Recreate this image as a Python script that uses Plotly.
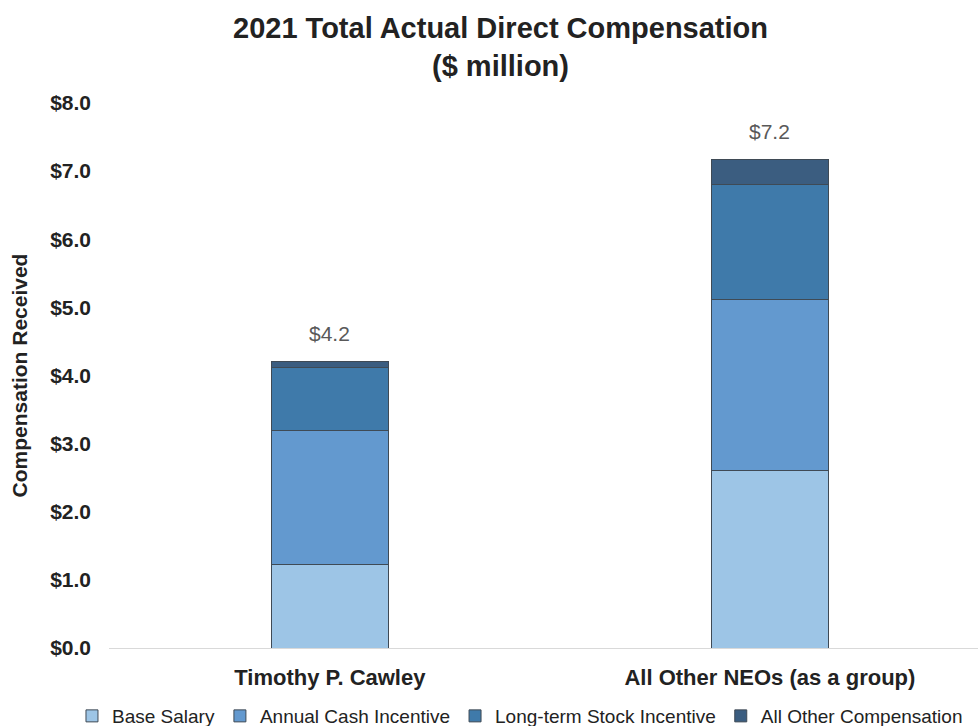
import plotly.graph_objects as go

categories = ["Timothy P. Cawley", "All Other NEOs (as a group)"]
series_names = ["Base Salary", "Annual Cash Incentive", "Long-term Stock Incentive", "All Other Compensation"]
base_salary = [1.22, 2.61]
annual_cash = [1.98, 2.50]
long_term_stock = [0.92, 1.69]
all_other = [0.08, 0.37]
total_labels = ["$4.2", "$7.2"]
y_ticks = [0, 1, 2, 3, 4, 5, 6, 7, 8]
y_tick_labels = ["$0.0", "$1.0", "$2.0", "$3.0", "$4.0", "$5.0", "$6.0", "$7.0", "$8.0"]

colors = ["#9DC5E6", "#6399CF", "#3F7AAA", "#3B5D80"]
values = [base_salary, annual_cash, long_term_stock, all_other]

FONT = "Liberation Sans, Arial, sans-serif"

fig = go.Figure()
for name, vals, col in zip(series_names, values, colors):
    fig.add_trace(go.Bar(
        x=categories, y=vals, name=name,
        marker=dict(color=col, line=dict(color="#3F4A55", width=1)),
        width=0.266,
    ))

totals = [sum(v) for v in zip(*values)]
for cat, tot, lab in zip(categories, totals, total_labels):
    fig.add_annotation(x=cat, y=tot, text=lab, showarrow=False,
                       yanchor="bottom", yshift=15,
                       font=dict(family=FONT, size=21, color="#595959"))

fig.add_annotation(
    text="<b>2021 Total Actual Direct Compensation<br>($ million)</b>",
    xref="paper", yref="paper", x=0.45, y=1.1028,
    xanchor="center", yanchor="middle", showarrow=False,
    font=dict(family=FONT, size=29, color="#222222"),
)

fig.update_layout(
    barmode="stack",
    width=978, height=726,
    paper_bgcolor="white", plot_bgcolor="white",
    margin=dict(l=109, r=0, t=103, b=78, autoexpand=False),
    font=dict(family=FONT, color="#222222"),
    xaxis=dict(
        range=[-0.502, 1.473],
        showline=True, linecolor="#D9D9D9", linewidth=1,
        ticks="", tickfont=dict(size=22, color="#222222"),
        tickprefix="<b>", ticksuffix="</b>",
        ticklabelstandoff=10,
        showgrid=False,
    ),
    yaxis=dict(
        range=[0, 8],
        tickvals=y_ticks, ticktext=["<b>" + t + "</b>" for t in y_tick_labels],
        tickfont=dict(size=21, color="#222222"),
        showgrid=False, zeroline=False, showline=False,
        ticks="", ticklabelstandoff=17,
        title=dict(text="<b>Compensation Received</b>", font=dict(size=21, color="#222222"), standoff=16),
    ),
    legend=dict(
        orientation="h", x=-0.0426, xanchor="left", xref="paper",
        y=-0.1248, yanchor="middle", yref="paper",
        font=dict(size=19, color="#222222"),
        traceorder="normal", itemwidth=30,
    ),
    showlegend=True,
)

fig.write_html("out.html", config={"displayModeBar": False},
               post_script="document.body.style.margin='0';document.body.style.overflow='hidden';")
